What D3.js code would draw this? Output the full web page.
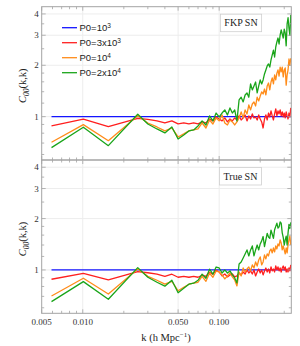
<!DOCTYPE html>
<html>
<head>
<meta charset="utf-8">
<script src="https://cdn.jsdelivr.net/npm/d3@7"></script>
<style>
  html, body { margin: 0; padding: 0; background: #fff; }
  svg { display: block; }
</style>
</head>
<body>
<div class="chart"></div>
<script>
// k bins (h/Mpc)
const kValues = [0.0059, 0.0101, 0.0154, 0.0253,
  0.030, 0.035, 0.040, 0.045, 0.050, 0.055, 0.060, 0.065, 0.070, 0.075, 0.080, 0.085, 0.090, 0.095,
  0.100, 0.105, 0.110, 0.115, 0.120, 0.125, 0.130, 0.135, 0.140, 0.145,
  0.150, 0.155, 0.160, 0.165, 0.170, 0.175, 0.180, 0.185, 0.190, 0.195,
  0.200, 0.205, 0.210, 0.215, 0.220, 0.225, 0.230, 0.235, 0.240, 0.245,
  0.250, 0.255, 0.260, 0.265, 0.270, 0.275, 0.280, 0.285, 0.290, 0.295,
  0.300, 0.305, 0.310, 0.315, 0.320, 0.325, 0.330, 0.335]

// P0 = 10^3 is the reference, flat at 1
const refK = [0.0059, 0.335]
const refValues = [1, 1]

// FKP SN panel
const fkpP3e3 = [0.882, 0.966, 0.874, 0.978,
  0.963, 0.944, 0.918, 0.944, 0.906, 0.918, 0.906, 0.918, 0.906, 0.931, 0.918, 0.969, 0.944, 0.996,
  0.969, 0.944, 0.983, 0.931, 0.969, 0.944, 0.983, 0.956, 1.010, 0.956,
  0.983, 1.023, 0.944, 1.010, 0.969, 1.037, 0.983, 0.996, 0.956, 1.023,
  0.969, 0.931, 0.858, 0.969, 1.023, 0.956, 1.050, 0.996, 1.080, 1.010,
  0.956, 1.037, 1.110, 1.010, 1.080, 1.037, 1.095, 1.010, 1.065, 0.996,
  1.050, 0.983, 1.065, 1.010, 0.969, 1.050, 0.996, 1.125]
const fkpP1e4 = [0.708, 0.898, 0.723, 1.013,
  0.918, 0.870, 0.825, 0.858, 0.760, 0.792, 0.825, 0.836, 0.847, 0.918, 0.858, 0.956, 0.906, 0.983,
  0.944, 1.023, 0.918, 0.894, 0.956, 0.931, 0.894, 0.931, 0.983, 1.065,
  0.983, 1.095, 1.037, 1.171, 1.095, 1.186, 1.220, 1.155, 1.300, 1.236,
  1.320, 1.395, 1.358, 1.452, 1.340, 1.513, 1.575, 1.434, 1.596, 1.685,
  1.555, 1.755, 1.641, 1.800, 1.878, 1.730, 1.953, 1.828, 1.953, 1.710,
  1.878, 1.930, 1.530, 1.755, 1.878, 2.178, 2.000, 2.200]
const fkpP2e4 = [0.658, 0.867, 0.676, 1.033,
  0.906, 0.847, 0.803, 0.870, 0.740, 0.781, 0.825, 0.836, 0.882, 0.944, 0.894, 1.010, 0.944, 1.050,
  0.996, 1.050, 1.095, 1.023, 1.125, 1.050, 1.095, 0.944, 1.253, 1.300,
  1.220, 1.340, 1.377, 1.300, 1.555, 1.434, 1.513, 1.596, 1.377, 1.513,
  1.641, 1.555, 1.641, 1.779, 1.878, 1.982, 2.036, 1.953, 2.149, 2.300,
  2.457, 2.237, 2.560, 2.740, 2.890, 2.666, 3.010, 3.220, 3.050, 2.890,
  3.260, 3.090, 2.600, 3.500, 3.800, 3.300, 3.000, 3.950]

// True SN panel
const trueP3e3 = [0.882, 0.956, 0.874, 0.978,
  0.963, 0.944, 0.918, 0.944, 0.906, 0.918, 0.906, 0.918, 0.906, 0.931, 0.918, 0.969, 0.944, 0.996,
  0.973, 0.922, 0.947, 0.910, 0.935, 0.947, 0.910, 0.922, 0.960, 0.935,
  0.973, 0.947, 1.000, 0.960, 0.987, 0.947, 1.000, 0.922, 0.973, 1.013,
  0.960, 1.000, 0.935, 0.987, 1.027, 0.973, 1.013, 0.960, 1.041, 0.987,
  1.013, 0.973, 1.055, 1.000, 1.041, 0.987, 1.027, 0.973, 1.027, 1.055,
  1.000, 1.041, 0.973, 1.013, 0.973, 1.027, 0.987, 1.070]
const trueP1e4 = [0.704, 0.894, 0.723, 1.013,
  0.918, 0.870, 0.825, 0.858, 0.755, 0.792, 0.825, 0.836, 0.847, 0.918, 0.858, 0.956, 0.906, 0.983,
  0.973, 0.935, 0.886, 0.922, 0.960, 0.910, 0.874, 0.806, 0.973, 0.922,
  1.027, 0.973, 1.013, 1.041, 0.987, 1.070, 1.027, 1.114, 1.055, 1.144,
  1.192, 1.070, 1.114, 1.224, 1.160, 1.241, 1.208, 1.292, 1.327, 1.258,
  1.345, 1.275, 1.382, 1.327, 1.420, 1.382, 1.500, 1.440, 1.310, 1.382,
  1.310, 1.241, 1.345, 1.258, 1.400, 1.500, 1.580, 1.400]
const trueP2e4 = [0.652, 0.854, 0.673, 1.032,
  0.906, 0.847, 0.803, 0.870, 0.735, 0.781, 0.825, 0.836, 0.870, 0.944, 0.894, 1.010, 0.944, 1.040,
  1.027, 0.960, 1.000, 0.960, 0.987, 0.935, 0.898, 0.839, 1.084, 1.114,
  1.176, 1.241, 1.310, 1.208, 1.310, 1.382, 1.208, 1.310, 1.400, 1.310,
  1.420, 1.480, 1.570, 1.370, 1.500, 1.640, 1.560, 1.530, 1.710, 1.620,
  1.530, 1.720, 1.800, 1.880, 1.760, 1.790, 1.910, 1.880, 1.650, 1.550,
  1.400, 1.500, 1.580, 1.400, 1.650, 1.850, 1.750, 1.900]

// axis ticks
const xMajorTicks = [0.005, 0.01, 0.05, 0.1]
const xMinorTicks = [0.006, 0.007, 0.008, 0.009, 0.02, 0.03, 0.04, 0.06, 0.07, 0.08, 0.09, 0.2, 0.3]
const yMajorTicks = [1, 2, 3, 4]
const yMinorTicks = [0.6, 0.7, 0.8, 0.9, 1.2, 1.4, 1.6, 1.8, 2.5, 3.5]

const colors = ["#1414ff", "#ff1f1f", "#ff8c1a", "#1aa51a"]
const legendNames = [["P0=10", "3"], ["P0=3x10", "3"], ["P0=10", "4"], ["P0=2x10", "4"]]

const width = 300
const height = 346
const serif = "'Liberation Serif', 'DejaVu Serif', serif"
const sans = "'Liberation Sans', Arial, sans-serif"
const frameColor = "#a3a3a3"

const svg = d3.select(".chart").append("svg")
    .attr("width", width)
    .attr("height", height)
    .attr("viewBox", [0, 0, width, height])

const x = d3.scaleLog()
    .domain([0.005, 0.338])
    .range([41.7, 291.3])

const panels = [
  { top: 6.7, bottom: 160, label: "FKP SN", labelX: 241, series: [fkpP3e3, fkpP1e4, fkpP2e4] },
  { top: 160, bottom: 313.3, label: "True SN", labelX: 240.5, series: [trueP3e3, trueP1e4, trueP2e4] }
]

panels.forEach((p, pi) => {
  const y = d3.scaleLog()
      .domain([0.557, 4.41])
      .range([p.bottom, p.top])

  const g = svg.append("g")

  const clipId = `clip-${pi}`
  svg.append("clipPath").attr("id", clipId)
    .append("rect")
      .attr("x", x.range()[0]).attr("y", p.top)
      .attr("width", x.range()[1] - x.range()[0]).attr("height", p.bottom - p.top)

  // grid
  g.append("g").selectAll("line")
    .data(xMajorTicks.slice(1))
    .join("line")
      .attr("x1", d => x(d)).attr("x2", d => x(d))
      .attr("y1", p.top).attr("y2", p.bottom)
      .attr("stroke", "#ededed").attr("stroke-width", 1)
  g.append("g").selectAll("line")
    .data(yMajorTicks)
    .join("line")
      .attr("x1", x.range()[0]).attr("x2", x.range()[1])
      .attr("y1", d => y(d)).attr("y2", d => y(d))
      .attr("stroke", "#ededed").attr("stroke-width", 1)

  // lines
  const line = d3.line()
      .x(d => x(d[0]))
      .y(d => y(d[1]))

  const lines = g.append("g").attr("clip-path", `url(#${clipId})`)
      .attr("fill", "none")
      .attr("stroke-width", 1.3)
      .attr("stroke-linejoin", "round")

  lines.append("path")
      .attr("d", line(d3.zip(refK, refValues)))
      .attr("stroke", colors[0])
  p.series.forEach((vals, i) => {
    lines.append("path")
        .attr("d", line(d3.zip(kValues, vals)))
        .attr("stroke", colors[i + 1])
  })

  // frame
  g.append("rect")
      .attr("x", x.range()[0]).attr("y", p.top)
      .attr("width", x.range()[1] - x.range()[0]).attr("height", p.bottom - p.top)
      .attr("fill", "none").attr("stroke", frameColor).attr("stroke-width", 1)

  // ticks, drawn inward on all sides
  const tg = g.append("g").attr("stroke", frameColor).attr("stroke-width", 0.8)
  const xt = xMajorTicks.map(d => [d, 4]).concat(xMinorTicks.map(d => [d, 2.5]))
  xt.forEach(([v, len]) => {
    tg.append("line").attr("x1", x(v)).attr("x2", x(v)).attr("y1", p.bottom).attr("y2", p.bottom - len)
    tg.append("line").attr("x1", x(v)).attr("x2", x(v)).attr("y1", p.top).attr("y2", p.top + len)
  })
  const yt = yMajorTicks.map(d => [d, 4]).concat(yMinorTicks.map(d => [d, 2.5]))
  yt.forEach(([v, len]) => {
    tg.append("line").attr("x1", x.range()[0]).attr("x2", x.range()[0] + len).attr("y1", y(v)).attr("y2", y(v))
    tg.append("line").attr("x1", x.range()[1]).attr("x2", x.range()[1] - len).attr("y1", y(v)).attr("y2", y(v))
  })

  // y tick labels
  g.append("g").selectAll("text")
    .data(yMajorTicks)
    .join("text")
      .attr("x", x.range()[0] - 3)
      .attr("y", d => y(d))
      .attr("dy", "0.35em")
      .attr("text-anchor", "end")
      .attr("font-family", serif)
      .attr("font-size", 9)
      .attr("fill", "#333")
      .text(d => d)

  // y axis label
  const yl = g.append("text")
      .attr("transform", `translate(26,${p.top + 79}) rotate(-90)`)
      .attr("text-anchor", "middle")
      .attr("font-family", serif)
      .attr("font-size", 10.5)
      .attr("fill", "#222")
  yl.append("tspan").attr("font-style", "italic").text("C")
  yl.append("tspan").attr("font-size", 7.5).attr("font-style", "italic").attr("dy", 2.5).text("00")
  yl.append("tspan").attr("dy", -2.5).text("(k,k)")

  // panel label box
  const lab = g.append("g")
  const lt = lab.append("text")
      .attr("x", p.labelX)
      .attr("y", p.top + 16)
      .attr("dy", "0.35em")
      .attr("text-anchor", "middle")
      .attr("font-family", serif)
      .attr("font-size", 10)
      .attr("fill", "#222")
      .text(p.label)
  const bb = lt.node().getBBox()
  lab.insert("rect", "text")
      .attr("x", bb.x - 4).attr("y", p.top + 7.5)
      .attr("width", bb.width + 8).attr("height", 17.5)
      .attr("fill", "#fff").attr("stroke", "#cfcfcf").attr("stroke-width", 0.8)
})

// x tick labels
svg.append("g").selectAll("text")
  .data(xMajorTicks)
  .join("text")
    .attr("x", d => x(d))
    .attr("y", 322)
    .attr("dy", "0.35em")
    .attr("text-anchor", "middle")
    .attr("font-family", serif)
    .attr("font-size", 9)
    .attr("fill", "#333")
    .text(d3.format(".3f"))

// x axis label
const xl = svg.append("text")
    .attr("x", 166)
    .attr("y", 341)
    .attr("text-anchor", "middle")
    .attr("font-family", serif)
    .attr("font-size", 10.5)
    .attr("fill", "#222")
xl.append("tspan").text("k (h Mpc")
xl.append("tspan").attr("font-size", 7).attr("dy", -4).text("\u22121")
xl.append("tspan").attr("dy", 4).text(")")

// legend (top panel)
const legend = svg.append("g")
legendNames.forEach((nm, i) => {
  const ly = 27.7 + i * 15
  legend.append("line")
      .attr("x1", 62).attr("x2", 77).attr("y1", ly).attr("y2", ly)
      .attr("stroke", colors[i]).attr("stroke-width", 1.3)
  const t = legend.append("text")
      .attr("x", 79.5).attr("y", ly).attr("dy", "0.35em")
      .attr("font-family", sans)
      .attr("font-size", 9.5)
      .attr("fill", "#222")
  t.append("tspan").text(nm[0])
  t.append("tspan").attr("font-size", 6.5).attr("dy", -3.5).text(nm[1])
})
</script>
</body>
</html>
